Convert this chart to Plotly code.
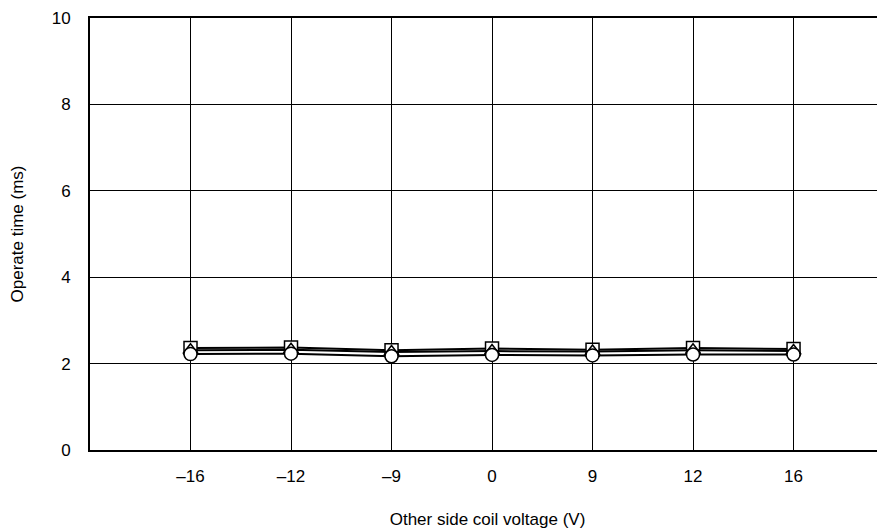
import plotly.graph_objects as go

voltages = ["\u201316", "\u201312", "\u20139", "0", "9", "12", "16"]
square_vals = [2.36, 2.37, 2.31, 2.35, 2.32, 2.36, 2.34]
triangle_vals = [2.31, 2.32, 2.27, 2.29, 2.28, 2.31, 2.29]
circle_vals = [2.22, 2.23, 2.17, 2.20, 2.19, 2.21, 2.21]
y_ticks = [0, 2, 4, 6, 8, 10]

fig = go.Figure()
for vals, sym in [(square_vals, "square"), (triangle_vals, "triangle-up"), (circle_vals, "circle")]:
    fig.add_trace(go.Scatter(
        x=voltages, y=vals, mode="lines+markers",
        line=dict(color="black", width=2),
        marker=dict(symbol=sym, size=13, color="white",
                    line=dict(color="black", width=1.5)),
        showlegend=False,
    ))

font = dict(family="Liberation Sans, Arial, sans-serif", size=17, color="black")
fig.update_layout(
    width=877, height=521,
    margin=dict(l=82, r=0, t=10, b=79),
    paper_bgcolor="white", plot_bgcolor="white",
    font=font,
    xaxis=dict(
        type="category", range=[-1, 6.91],
        showgrid=True, gridcolor="black", gridwidth=1,
        showline=True, linecolor="black", linewidth=2, mirror=True,
        ticks="outside", ticklen=10, tickcolor="rgba(0,0,0,0)",
        title=dict(text="Other side coil voltage (V)", standoff=31, font=font),
        zeroline=False,
    ),
    yaxis=dict(
        range=[0, 10], tickvals=y_ticks,
        showgrid=True, gridcolor="black", gridwidth=1,
        showline=True, linecolor="black", linewidth=2,
        ticks="outside", ticklen=14, tickcolor="rgba(0,0,0,0)",
        title=dict(text="Operate time (ms)", standoff=31, font=font),
        zeroline=False,
    ),
)
fig.write_html("out.html")
